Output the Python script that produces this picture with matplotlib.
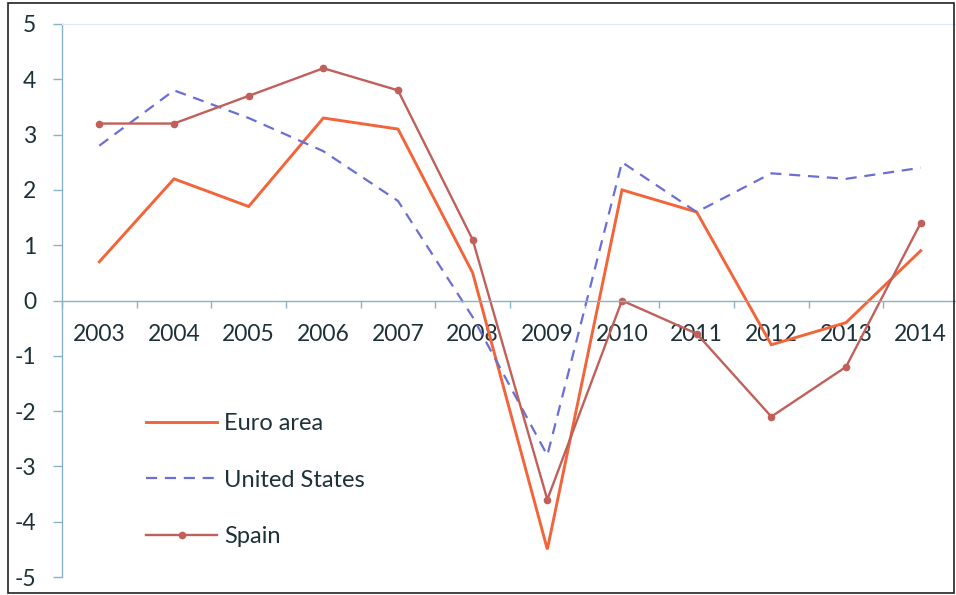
import numpy as np
import matplotlib
matplotlib.use("Agg")
import matplotlib.pyplot as plt
from matplotlib.patches import Rectangle

years = ["2003", "2004", "2005", "2006", "2007", "2008",
         "2009", "2010", "2011", "2012", "2013", "2014"]
euro_area = [0.7, 2.2, 1.7, 3.3, 3.1, 0.5, -4.5, 2.0, 1.6, -0.8, -0.4, 0.9]
united_states = [2.8, 3.8, 3.3, 2.7, 1.8, -0.3, -2.8, 2.5, 1.6, 2.3, 2.2, 2.4]
spain = [3.2, 3.2, 3.7, 4.2, 3.8, 1.1, -3.6, 0.0, -0.6, -2.1, -1.2, 1.4]
yticks = [5, 4, 3, 2, 1, 0, -1, -2, -3, -4, -5]

plt.rcParams['font.family'] = ['Lato', 'DejaVu Sans']
axis_col = '#86B4C6'
text_col = '#1D3238'

fig = plt.figure(figsize=(9.56, 5.95), dpi=100)
W, H = 956, 595
# plot area in pixels: left 62, right ~958, top y=24 (5), bottom y=577 (-5)
ax = fig.add_axes([62 / W, 1 - 577 / H, 896 / W, (577 - 24) / H])

x = np.arange(len(years))
ax.plot(x, euro_area, color='#F2643A', lw=2.1, label='Euro area', solid_joinstyle='miter')
ax.plot(x, united_states, color='#6B6FD4', lw=1.6, ls=(0, (5, 3.5)), label='United States')
ax.plot(x, spain, color='#C0605A', lw=1.7, marker='o', ms=4.5, label='Spain')

ax.set_xlim(-0.5, len(years) - 0.5)
ax.set_ylim(-5, 5)

ax.spines['right'].set_visible(False)
ax.spines['top'].set_color('#DDEBF1')
ax.spines['top'].set_linewidth(0.8)
ax.spines['left'].set_color(axis_col)
ax.spines['left'].set_linewidth(1.0)
ax.spines['bottom'].set_position(('data', 0))
ax.spines['bottom'].set_color(axis_col)
ax.spines['bottom'].set_linewidth(1.0)

ax.set_yticks(yticks)
ax.set_yticklabels([str(v) for v in yticks])
ax.tick_params(axis='y', direction='out', length=6.5, width=1.0, color=axis_col,
               pad=12, labelsize=16.5, labelcolor=text_col)

ax.set_xticks(np.arange(len(years) + 1) - 0.5)
ax.set_xticklabels([])
ax.tick_params(axis='x', which='major', direction='out', length=5, width=1.0, color=axis_col)
ax.set_xticks(x, minor=True)
ax.set_xticklabels(years, minor=True)
ax.tick_params(axis='x', which='minor', length=0, pad=17, labelsize=16.5, labelcolor=text_col)

leg = ax.legend(loc='upper left', bbox_to_anchor=(125 / W, 1 - 392 / H),
                bbox_transform=fig.transFigure, frameon=False, fontsize=17,
                handlelength=3.0, handletextpad=0.3, labelspacing=1.5)
for t in leg.get_texts():
    t.set_color(text_col)

fig.patches.append(Rectangle((8 / W, 1 - 593 / H), 946 / W, 590 / H,
                             transform=fig.transFigure, fill=False,
                             edgecolor='#222222', lw=1.2))

fig.savefig('out.png', dpi=100)
